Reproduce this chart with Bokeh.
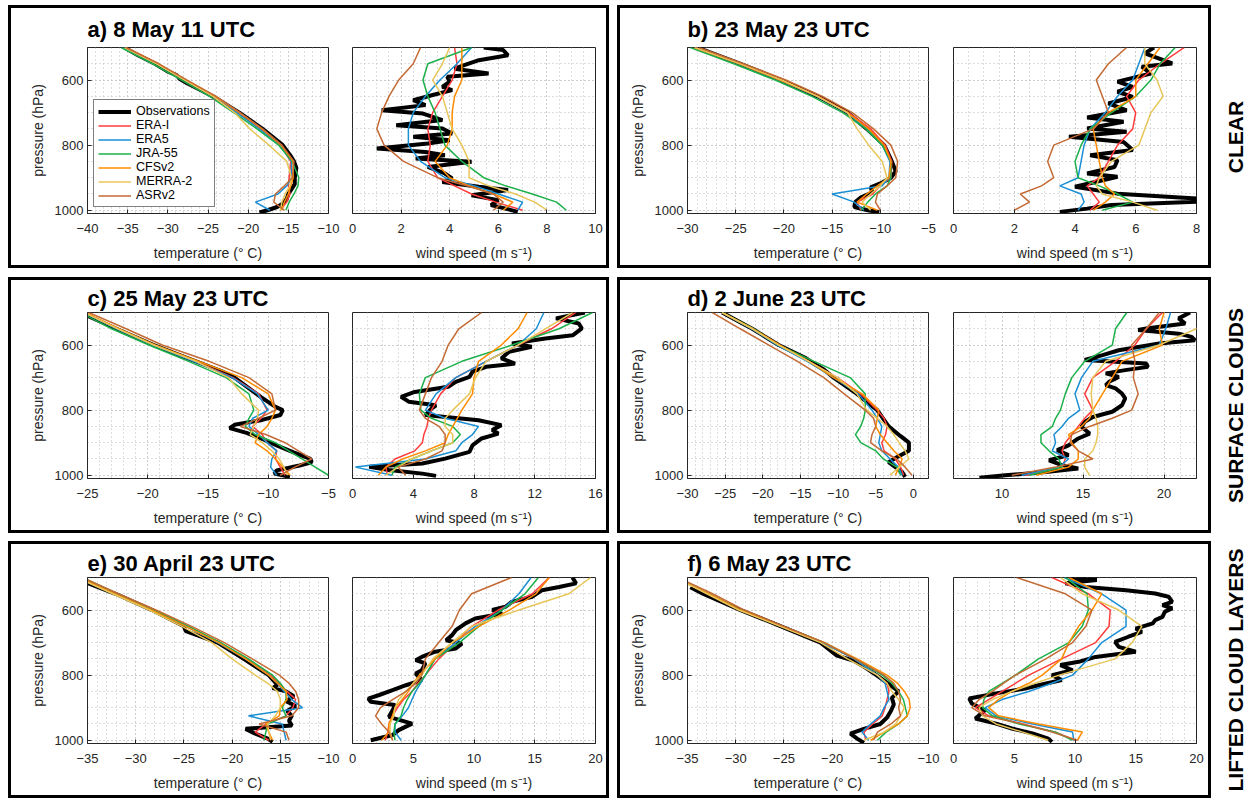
import math
from bokeh.plotting import figure
from bokeh.models import Range1d, FixedTicker, Spacer, Legend, LegendItem
from bokeh.layouts import row, column
from bokeh.embed import file_html
from bokeh.resources import INLINE
from bokeh.core.properties import value

# ---------------------------------------------------------------- data
MODELS = ["ERA-I", "ERA5", "JRA-55", "CFSv2", "MERRA-2", "ASRv2"]
MODEL_COLORS = ["#ff3b3b", "#1a8fd4", "#1bb04a", "#ff8c00", "#e8c65a", "#c46a35"]

P13 = [500, 550, 600, 650, 700, 750, 800, 850, 900, 925, 950, 975, 1000]
P15 = [500, 550, 600, 650, 700, 750, 800, 825, 850, 875, 900, 925, 950, 975, 1000]

# ---- a) 8 May 11 UTC
a_temp_obs_p = [500, 525, 550, 575, 585, 595, 610, 650, 700, 750, 800, 830, 850, 870, 900, 920, 935, 950, 965, 980, 990, 1000, 1007]
a_temp_obs = [-35.4, -33.6, -31.6, -29.9, -28.9, -28.6, -27.6, -24.4, -21.1, -18.2, -15.7, -14.8, -14.3, -14.0, -14.2, -14.2, -14.6, -15.0, -15.2, -15.7, -16.4, -17.6, -18.6]
a_temp_erai = [-35.3, -31.3, -27.8, -24.2, -21.2, -18.4, -16.0, -14.7, -14.9, -15.0, -14.8, -15.2, -16.0]
a_temp_era5 = [-35.5, -31.4, -27.9, -24.4, -21.4, -18.6, -16.1, -14.6, -14.6, -15.2, -16.3, -19.1, -17.3]
a_temp_jra55 = [-35.8, -31.9, -28.3, -24.8, -21.8, -18.9, -16.2, -14.5, -13.7, -13.8, -14.3, -14.9, -15.3]
a_temp_cfsv2 = [-35.2, -31.2, -27.7, -24.1, -21.1, -18.3, -15.9, -14.4, -14.4, -14.7, -15.0, -15.5, -15.8]
a_temp_merra2 = [-35.4, -31.4, -27.9, -24.4, -21.7, -19.8, -17.4, -15.2, -14.6, -14.8, -15.4, -15.8, -16.0]
a_temp_asrv2 = [-35.2, -31.1, -27.6, -24.0, -21.0, -18.2, -15.8, -14.3, -14.5, -15.5, -16.6, -16.8, -15.5]

a_wind_obs_p = [500, 508, 524, 539, 554, 565, 580, 590, 605, 621, 631, 646, 662, 677, 693, 703, 723, 739, 749, 764, 774, 785, 795, 810, 821, 831, 841, 851, 867, 887, 902, 913, 928, 938, 954, 969, 984, 995, 1005]
a_wind_obs = [5.4, 6.2, 6.4, 5.2, 4.6, 4.2, 5.6, 3.9, 4.0, 3.7, 4.1, 3.3, 2.5, 3.0, 1.2, 2.9, 3.7, 1.8, 3.7, 4.1, 2.5, 4.0, 3.1, 1.0, 3.0, 3.8, 2.6, 4.9, 3.1, 3.8, 4.1, 3.7, 5.2, 6.4, 4.9, 6.0, 5.7, 6.3, 6.8]
a_wind_erai = [4.2, 4.3, 4.1, 3.7, 3.3, 3.1, 3.2, 3.1, 3.5, 4.2, 4.9, 5.9, 7.0]
a_wind_era5 = [4.9, 4.3, 3.6, 3.0, 2.5, 2.3, 2.3, 2.8, 3.8, 5.0, 6.0, 7.0, 6.8]
a_wind_jra55 = [4.9, 3.1, 2.9, 3.1, 3.4, 3.6, 3.8, 4.5, 5.4, 6.3, 7.4, 8.4, 8.8]
a_wind_cfsv2 = [4.5, 4.5, 4.5, 4.2, 4.1, 4.1, 3.9, 3.4, 4.0, 4.8, 5.8, 6.6, 6.2]
a_wind_merra2 = [4.0, 3.7, 3.3, 3.7, 3.9, 4.1, 4.5, 4.8, 4.8, 5.6, 6.7, 7.5, 8.0]
a_wind_asrv2 = [2.8, 2.5, 1.9, 1.5, 1.2, 1.0, 1.3, 2.1, 3.5, 4.7, 5.8, 6.2, 5.8]

# ---- b) 23 May 23 UTC
b_temp_obs_p = [500, 550, 600, 650, 680, 700, 750, 800, 850, 880, 900, 915, 930, 945, 960, 975, 990, 1000, 1006]
b_temp_obs = [-29.0, -24.5, -20.3, -16.5, -14.6, -13.4, -11.4, -9.6, -8.8, -8.4, -8.9, -9.8, -11.0, -10.8, -12.0, -12.6, -12.7, -11.3, -10.1]
b_temp_erai = [-29.2, -24.6, -20.3, -16.4, -13.3, -11.0, -9.5, -8.8, -8.9, -10.0, -10.8, -12.4, -12.0]
b_temp_era5 = [-29.3, -24.7, -20.5, -16.6, -13.5, -11.4, -9.8, -9.0, -9.1, -9.8, -15.0, -12.7, -11.7]
b_temp_jra55 = [-29.7, -25.2, -20.9, -17.1, -13.9, -11.5, -9.8, -8.9, -8.9, -9.3, -10.5, -11.3, -12.0]
b_temp_cfsv2 = [-29.3, -24.6, -20.4, -16.5, -13.4, -11.2, -9.6, -8.9, -9.1, -10.3, -11.4, -12.4, -10.3]
b_temp_merra2 = [-29.2, -24.5, -20.2, -16.5, -13.4, -12.4, -11.2, -9.8, -9.3, -10.0, -11.0, -11.9, -11.0]
b_temp_asrv2 = [-28.8, -24.2, -19.8, -16.0, -12.9, -10.7, -8.9, -8.2, -8.4, -9.3, -10.3, -10.5, -10.0]

b_wind_obs_p = [500, 518, 549, 559, 580, 605, 621, 636, 652, 672, 693, 715, 728, 749, 759, 774, 790, 815, 831, 846, 867, 887, 897, 928, 949, 964, 974, 984, 995, 1005]
b_wind_obs = [6.6, 6.3, 7.2, 6.2, 6.5, 5.4, 5.9, 5.4, 5.9, 5.1, 5.7, 4.4, 5.6, 4.4, 5.7, 3.8, 5.6, 5.9, 4.5, 5.4, 5.3, 4.4, 5.4, 4.0, 5.4, 8.0, 8.0, 5.2, 4.4, 3.5]
b_wind_erai = [7.6, 6.8, 6.1, 5.7, 6.0, 5.9, 5.4, 5.1, 4.8, 4.4, 4.6, 4.8, 4.5]
b_wind_era5 = [6.3, 6.1, 5.9, 5.4, 5.0, 4.5, 4.3, 4.2, 4.1, 3.5, 4.2, 4.3, 4.1]
b_wind_jra55 = [7.3, 6.8, 6.5, 6.0, 5.2, 4.5, 4.2, 4.0, 4.1, 4.8, 5.4, 5.9, 4.9]
b_wind_cfsv2 = [6.8, 6.4, 6.0, 6.0, 5.1, 4.6, 4.7, 4.8, 4.9, 5.0, 5.3, 5.0, 4.6]
b_wind_merra2 = [6.3, 6.3, 6.7, 6.9, 6.5, 6.3, 6.1, 5.2, 4.8, 4.7, 4.9, 5.9, 6.7]
b_wind_asrv2 = [5.7, 5.1, 4.7, 4.9, 5.1, 4.6, 3.3, 3.1, 3.3, 2.9, 2.2, 2.5, 2.0]

# ---- c) 25 May 23 UTC
c_temp_obs_p = [510, 550, 600, 650, 680, 700, 730, 760, 790, 800, 815, 830, 845, 855, 870, 890, 910, 930, 950, 960, 970, 985, 995, 1005]
c_temp_obs = [-25.0, -22.6, -19.5, -16.0, -13.9, -12.8, -11.7, -10.6, -9.4, -8.8, -9.0, -10.5, -12.8, -13.2, -11.8, -10.4, -9.2, -7.9, -6.5, -6.4, -7.4, -9.3, -9.5, -8.2]
c_temp_erai = [-25.3, -22.5, -19.5, -16.0, -12.9, -10.8, -10.1, -10.6, -11.3, -10.5, -10.1, -9.3, -9.4, -9.0, -8.6]
c_temp_era5 = [-25.3, -22.6, -19.6, -16.2, -13.0, -10.9, -10.0, -11.3, -11.6, -10.8, -10.1, -9.3, -9.7, -9.8, -9.3]
c_temp_jra55 = [-25.6, -23.0, -19.9, -16.6, -13.5, -11.6, -11.2, -11.6, -11.9, -11.1, -9.4, -8.3, -7.2, -6.1, -5.0]
c_temp_cfsv2 = [-25.2, -22.4, -19.4, -15.8, -12.2, -10.0, -9.4, -9.7, -10.1, -10.8, -11.1, -10.1, -9.4, -8.8, -8.2]
c_temp_merra2 = [-25.3, -22.5, -19.5, -16.0, -13.3, -12.2, -10.8, -10.9, -11.2, -11.5, -10.5, -9.7, -9.1, -8.7, -8.4]
c_temp_asrv2 = [-24.9, -21.8, -18.8, -14.9, -11.6, -9.7, -9.4, -10.8, -12.3, -10.2, -8.6, -7.5, -6.4, -7.8, -9.0]

c_wind_obs_p = [500, 518, 534, 549, 570, 580, 595, 605, 621, 641, 657, 667, 682, 698, 713, 728, 744, 759, 774, 785, 795, 815, 831, 846, 861, 872, 887, 908, 928, 949, 964, 974, 984, 995, 1002]
c_wind_obs = [15.3, 13.4, 14.9, 15.1, 14.5, 12.7, 10.5, 11.8, 10.3, 9.8, 10.7, 8.8, 7.9, 7.7, 6.8, 6.3, 4.1, 3.2, 3.7, 5.5, 5.2, 4.8, 8.3, 9.8, 9.2, 9.6, 8.5, 7.9, 7.7, 6.1, 4.6, 1.1, 2.4, 4.6, 5.5]
c_wind_erai = [14.7, 13.1, 10.9, 8.8, 6.8, 5.8, 5.2, 5.0, 4.9, 4.7, 4.6, 4.1, 2.8, 2.2, 2.3]
c_wind_era5 = [12.6, 12.1, 10.9, 8.8, 6.8, 5.5, 4.8, 6.1, 8.3, 7.9, 7.2, 6.8, 4.8, 0.2, 2.6]
c_wind_jra55 = [15.8, 13.6, 10.5, 7.2, 4.8, 4.4, 4.5, 5.2, 6.6, 7.1, 6.6, 5.2, 3.9, 2.8, 2.6]
c_wind_cfsv2 = [11.5, 10.9, 9.8, 8.3, 8.0, 7.9, 7.2, 6.9, 6.6, 6.3, 6.1, 4.8, 3.3, 2.2, 1.7]
c_wind_merra2 = [14.5, 12.7, 10.9, 8.8, 8.1, 7.7, 6.6, 6.1, 6.1, 6.6, 6.6, 5.2, 3.9, 3.0, 2.2]
c_wind_asrv2 = [8.5, 7.0, 6.3, 5.9, 5.2, 4.8, 4.4, 4.8, 5.7, 6.1, 6.1, 5.9, 4.8, 3.0, 3.5]

# ---- d) 2 June 23 UTC
d_temp_obs_p = [500, 550, 600, 640, 660, 675, 700, 750, 800, 850, 880, 900, 925, 945, 960, 975, 990, 1005]
d_temp_obs = [-25.4, -21.4, -17.9, -14.3, -13.0, -11.9, -10.6, -7.5, -4.8, -3.3, -1.7, -0.6, -0.6, -2.2, -3.3, -2.4, -1.5, -1.1]
d_temp_erai = [-25.4, -21.4, -17.9, -13.9, -10.1, -7.0, -4.8, -3.9, -3.5, -3.7, -4.2, -3.9, -2.4, -1.7, -1.3]
d_temp_era5 = [-25.4, -21.5, -18.1, -14.1, -10.6, -7.3, -5.5, -4.8, -4.2, -4.4, -4.6, -4.2, -3.1, -2.0, -1.5]
d_temp_jra55 = [-25.4, -21.2, -17.9, -13.2, -8.4, -6.4, -6.4, -6.6, -7.0, -7.7, -7.0, -5.0, -4.0, -2.2, -1.7]
d_temp_cfsv2 = [-25.4, -21.3, -17.7, -13.9, -10.6, -6.8, -4.6, -4.8, -5.0, -4.4, -3.5, -2.6, -1.5, -1.9, -2.4]
d_temp_merra2 = [-25.4, -21.4, -17.9, -13.9, -10.1, -7.5, -6.2, -4.8, -3.5, -2.6, -1.9, -1.1, -0.6, -1.9, -3.1]
d_temp_asrv2 = [-26.7, -23.0, -19.2, -15.4, -11.9, -9.2, -6.4, -5.3, -5.0, -5.5, -5.7, -4.2, -2.2, -1.1, -0.2]

d_wind_obs_p = [500, 518, 534, 549, 554, 565, 575, 585, 595, 616, 631, 646, 657, 667, 677, 687, 698, 713, 723, 733, 749, 764, 785, 805, 821, 836, 851, 872, 887, 908, 923, 938, 954, 969, 979, 990, 1000, 1008]
d_wind_obs = [21.6, 20.9, 21.3, 18.9, 18.4, 20.9, 21.7, 21.9, 19.7, 17.2, 16.2, 15.1, 18.9, 19.0, 17.6, 16.4, 17.2, 16.6, 16.4, 17.0, 17.4, 17.6, 17.4, 16.8, 15.6, 15.1, 14.9, 15.4, 14.7, 14.1, 13.4, 14.1, 12.9, 13.7, 14.7, 12.7, 10.2, 8.6]
d_wind_erai = [19.9, 18.9, 18.2, 17.0, 15.6, 15.1, 15.6, 15.1, 14.7, 14.3, 13.9, 13.7, 13.9, 13.7, 11.4]
d_wind_era5 = [20.4, 20.1, 19.7, 15.6, 14.9, 14.5, 14.8, 14.1, 13.7, 13.2, 13.3, 13.1, 14.1, 13.5, 11.2]
d_wind_jra55 = [17.7, 17.0, 16.8, 15.1, 14.3, 13.9, 13.6, 13.3, 13.1, 12.4, 12.4, 12.9, 13.5, 13.7, 11.7]
d_wind_cfsv2 = [20.0, 19.7, 19.9, 17.4, 16.8, 16.2, 15.6, 15.4, 14.9, 14.1, 14.3, 14.7, 14.7, 14.1, 12.1]
d_wind_merra2 = [23.0, 22.0, 19.7, 16.4, 15.6, 15.5, 15.6, 15.8, 15.9, 15.9, 15.8, 15.6, 15.1, 15.1, 15.4]
d_wind_asrv2 = [19.7, 18.9, 18.0, 18.2, 18.1, 18.4, 18.0, 16.8, 15.4, 14.3, 14.2, 14.7, 15.6, 13.3, 10.6]

# ---- e) 30 April 23 UTC
e_temp_obs_p = [515, 550, 600, 650, 665, 700, 750, 800, 830, 840, 850, 865, 880, 895, 910, 925, 940, 955, 965, 980, 995, 1005]
e_temp_obs = [-35.2, -32.1, -28.3, -25.0, -24.8, -21.5, -18.8, -16.2, -15.3, -15.8, -14.4, -13.6, -14.4, -13.4, -14.3, -13.8, -14.1, -13.8, -18.6, -17.6, -16.3, -15.8]
e_temp_erai = [-35.9, -32.1, -28.3, -24.7, -21.4, -18.4, -16.0, -15.1, -14.3, -13.4, -13.7, -14.4, -16.5, -17.6, -16.2]
e_temp_era5 = [-36.1, -32.3, -28.5, -24.8, -21.5, -18.6, -16.2, -15.3, -14.6, -13.8, -12.7, -18.3, -14.8, -14.6, -14.4]
e_temp_jra55 = [-35.5, -31.9, -28.1, -24.5, -21.2, -18.3, -15.8, -15.0, -14.4, -14.4, -14.8, -14.4, -16.3, -16.5, -16.7]
e_temp_cfsv2 = [-35.9, -32.2, -28.4, -24.8, -21.4, -18.6, -16.2, -15.3, -14.4, -14.3, -15.0, -15.1, -16.5, -16.2, -15.8]
e_temp_merra2 = [-36.1, -32.4, -28.6, -25.2, -22.1, -20.0, -17.6, -16.3, -15.3, -15.0, -15.0, -15.5, -16.3, -16.2, -16.0]
e_temp_asrv2 = [-35.5, -31.8, -27.9, -24.2, -20.8, -17.9, -15.1, -14.1, -13.4, -13.1, -13.1, -13.8, -17.2, -14.4, -14.1]

e_wind_obs_p = [500, 518, 529, 539, 559, 575, 590, 600, 611, 626, 641, 662, 677, 693, 703, 718, 728, 744, 754, 764, 785, 795, 815, 831, 846, 861, 872, 882, 892, 908, 928, 949, 969, 984, 1000]
e_wind_obs = [18.1, 18.4, 17.0, 15.6, 14.8, 13.1, 12.6, 11.5, 12.3, 10.1, 9.3, 8.5, 8.2, 7.7, 9.0, 8.5, 6.8, 5.7, 5.2, 6.0, 5.7, 5.2, 5.7, 4.4, 3.3, 2.2, 1.3, 1.5, 3.5, 3.3, 3.0, 4.9, 3.8, 3.3, 1.5]
e_wind_erai = [16.2, 14.8, 12.0, 9.8, 8.5, 7.1, 6.0, 5.4, 4.9, 4.2, 3.7, 3.3, 3.0, 2.9, 2.7]
e_wind_era5 = [14.7, 13.7, 12.3, 10.1, 8.5, 6.8, 6.0, 5.6, 5.2, 4.9, 4.6, 4.1, 3.5, 3.5, 4.0]
e_wind_jra55 = [15.3, 14.2, 12.3, 10.4, 8.8, 6.8, 6.0, 5.5, 4.9, 4.5, 4.2, 4.0, 3.5, 3.4, 3.5]
e_wind_cfsv2 = [16.2, 15.1, 12.9, 10.4, 8.2, 6.8, 5.5, 5.0, 4.6, 4.1, 3.5, 3.3, 3.0, 3.0, 2.4]
e_wind_merra2 = [19.6, 17.8, 13.7, 9.8, 8.2, 6.6, 5.7, 5.0, 4.4, 3.8, 3.5, 3.4, 3.1, 3.1, 3.3]
e_wind_asrv2 = [13.1, 9.8, 8.8, 8.2, 7.1, 6.0, 5.7, 5.2, 4.4, 3.3, 2.3, 1.9, 2.4, 3.0, 3.3]

# ---- f) 6 May 23 UTC
f_temp_obs_p = [530, 550, 600, 650, 700, 740, 755, 770, 800, 830, 850, 870, 890, 910, 930, 950, 965, 980, 995, 1008]
f_temp_obs = [-34.7, -33.4, -29.5, -25.3, -21.2, -19.5, -17.8, -16.9, -15.4, -14.0, -13.1, -13.8, -13.6, -13.9, -14.3, -15.0, -16.7, -18.1, -17.4, -16.7]
f_temp_erai = [-36.3, -32.8, -29.5, -25.2, -21.0, -17.7, -15.3, -14.3, -14.1, -14.3, -14.5, -14.8, -15.8, -16.7, -16.5]
f_temp_era5 = [-36.3, -32.8, -29.5, -25.2, -21.0, -17.7, -15.3, -14.5, -14.3, -14.1, -14.6, -15.0, -16.0, -16.9, -16.2]
f_temp_jra55 = [-36.3, -32.8, -29.5, -25.2, -20.8, -17.6, -14.8, -13.8, -13.1, -12.6, -12.4, -12.2, -13.1, -14.4, -15.3]
f_temp_cfsv2 = [-36.3, -32.8, -29.5, -25.2, -20.8, -17.4, -14.3, -13.2, -12.5, -12.0, -11.9, -12.2, -13.1, -14.6, -16.0]
f_temp_merra2 = [-36.3, -33.0, -29.7, -25.4, -21.2, -18.4, -15.3, -14.3, -13.8, -13.1, -12.5, -12.9, -13.4, -14.6, -16.7]
f_temp_asrv2 = [-36.0, -32.4, -29.1, -25.0, -20.8, -17.6, -14.6, -13.6, -13.1, -12.9, -13.1, -12.9, -13.9, -15.3, -15.7]

f_wind_obs_p = [500, 508, 518, 529, 539, 549, 559, 575, 585, 595, 605, 621, 631, 641, 657, 667, 682, 698, 713, 728, 744, 759, 769, 785, 800, 815, 831, 841, 856, 872, 887, 908, 933, 949, 964, 979, 995, 1005]
f_wind_obs = [9.5, 11.8, 9.2, 10.9, 14.2, 16.6, 17.7, 18.0, 17.2, 18.0, 17.4, 17.2, 16.6, 16.4, 15.0, 15.5, 14.4, 13.3, 13.6, 15.0, 11.7, 10.3, 8.8, 9.8, 8.1, 8.9, 7.0, 5.9, 3.5, 1.3, 1.5, 2.6, 1.8, 3.5, 4.8, 6.5, 7.8, 8.1]
f_wind_erai = [8.1, 11.1, 12.9, 12.8, 11.7, 8.9, 6.2, 5.1, 4.0, 2.9, 1.8, 2.9, 5.7, 8.4, 10.0]
f_wind_era5 = [9.1, 12.2, 14.2, 14.2, 12.2, 11.1, 9.8, 8.1, 6.2, 4.0, 2.6, 3.5, 6.5, 9.8, 9.9]
f_wind_jra55 = [9.2, 11.0, 11.1, 10.6, 9.5, 7.0, 5.1, 4.0, 2.9, 2.5, 2.4, 3.2, 5.4, 8.4, 9.8]
f_wind_cfsv2 = [9.5, 12.2, 11.4, 10.3, 9.5, 8.9, 7.3, 6.2, 4.8, 3.7, 2.9, 3.7, 7.0, 10.6, 10.2]
f_wind_merra2 = [8.8, 10.6, 13.6, 15.5, 14.7, 13.3, 8.7, 6.7, 4.8, 3.2, 2.1, 2.4, 3.5, 5.7, 7.8]
f_wind_asrv2 = [5.2, 9.2, 11.4, 10.9, 9.8, 7.6, 5.1, 4.1, 3.2, 2.1, 1.5, 2.6, 5.7, 8.1, 10.2]

ROW_LABELS = ["CLEAR", "SURFACE CLOUDS", "LIFTED CLOUD LAYERS"]

# ---------------------------------------------------------------- style
FONT = "Liberation Sans"
TXT = "#262626"
GRID = "#bdbdbd"
FRAME_H = 166
BOT_B = 52
B = 3
# per row: (gap above box, top border inside figure, title standoff)
ROW_GEOM = [(5, 39, 11), (9, 32, 4), (8, 33, 4)]


def seq(lo, hi, step):
    n = int(round((hi - lo) / step))
    return [round(lo + i * step, 6) for i in range(n + 1)]


def style_axis(ax, vertical=False):
    ax.major_tick_in = 4
    ax.major_tick_out = 0
    ax.minor_tick_in = 0
    ax.minor_tick_out = 0
    ax.major_tick_line_color = TXT
    ax.axis_line_color = TXT
    ax.major_label_text_font = FONT
    ax.major_label_text_font_size = "13px"
    ax.major_label_text_color = TXT
    ax.major_label_standoff = 4 if vertical else 10
    ax.axis_label_text_font = FONT
    ax.axis_label_text_font_size = "14px"
    ax.axis_label_text_font_style = "normal"
    ax.axis_label_text_color = TXT
    ax.axis_label_standoff = 6 if vertical else 9


def make_fig(xr, xmajor, xminor, fw, left, right, top, xlabel, ylabel=None, title=None, tstand=5):
    p = figure(frame_width=fw, frame_height=FRAME_H,
               x_range=Range1d(*xr), y_range=Range1d(1010, 500),
               min_border_left=left, min_border_right=right,
               min_border_top=top, min_border_bottom=BOT_B,
               title=title, output_backend="svg", toolbar_location=None)
    p.xaxis.ticker = FixedTicker(ticks=xmajor, minor_ticks=xminor)
    p.yaxis.ticker = FixedTicker(ticks=[600, 800, 1000], minor_ticks=seq(500, 1000, 50))
    style_axis(p.xaxis[0])
    style_axis(p.yaxis[0], vertical=True)
    p.xaxis.axis_label = xlabel
    if ylabel:
        p.yaxis.axis_label = ylabel
    else:
        p.yaxis.visible = False
    for g in (p.xgrid[0], p.ygrid[0]):
        g.grid_line_color = GRID
        g.grid_line_dash = "1 3"
        g.minor_grid_line_color = GRID
        g.minor_grid_line_dash = "1 3"
    p.outline_line_color = TXT
    p.outline_line_width = 1
    p.background_fill_color = "white"
    p.border_fill_color = "white"
    if title:
        p.title.text_font = FONT
        p.title.text_font_size = "22px"
        p.title.text_font_style = "bold"
        p.title.text_color = "black"
        p.title.align = "left"
        p.title.standoff = tstand
    return p


def draw(p, obs_p, obs_v, lev, model_vals):
    rs = [p.line(obs_v, obs_p, line_color="black", line_width=4)]
    for vals, col in zip(model_vals, MODEL_COLORS):
        rs.append(p.line(vals, lev, line_color=col, line_width=1.5))
    return rs


def bar(w, h):
    return Spacer(width=w, height=h, margin=0, styles={"background-color": "black"})


def boxed(ft, fw_fig, W, fig_h):
    inner = row(bar(B, fig_h), ft, fw_fig, bar(B, fig_h), spacing=0)
    return column(bar(W, B), inner, bar(W, B), spacing=0)


def label_fig(text, h):
    p = figure(width=44, height=h, x_range=Range1d(0, 1), y_range=Range1d(0, 1),
               x_axis_type=None, y_axis_type=None, min_border=0, title=None,
               output_backend="svg", toolbar_location=None)
    p.grid.visible = False
    p.outline_line_color = None
    p.text(x=[0.55], y=[0.5], text=[text], angle=math.pi / 2,
           text_align="center", text_baseline="middle",
           text_font=value(FONT), text_font_style="bold", text_font_size="21px",
           text_color="black")
    return p


panels = [
    dict(title="a) 8 May 11 UTC", col=0,
         t=((-40, -10), seq(-40, -10, 5), seq(-40, -10, 1), a_temp_obs_p, a_temp_obs, P13,
            [a_temp_erai, a_temp_era5, a_temp_jra55, a_temp_cfsv2, a_temp_merra2, a_temp_asrv2]),
         w=((0, 10), seq(0, 10, 2), seq(0, 10, 0.5), a_wind_obs_p, a_wind_obs, P13,
            [a_wind_erai, a_wind_era5, a_wind_jra55, a_wind_cfsv2, a_wind_merra2, a_wind_asrv2])),
    dict(title="b) 23 May 23 UTC", col=1,
         t=((-30, -5), seq(-30, -5, 5), seq(-30, -5, 1), b_temp_obs_p, b_temp_obs, P13,
            [b_temp_erai, b_temp_era5, b_temp_jra55, b_temp_cfsv2, b_temp_merra2, b_temp_asrv2]),
         w=((0, 8), seq(0, 8, 2), seq(0, 8, 0.5), b_wind_obs_p, b_wind_obs, P13,
            [b_wind_erai, b_wind_era5, b_wind_jra55, b_wind_cfsv2, b_wind_merra2, b_wind_asrv2])),
    dict(title="c) 25 May 23 UTC", col=0,
         t=((-25, -5), seq(-25, -5, 5), seq(-25, -5, 1), c_temp_obs_p, c_temp_obs, P15,
            [c_temp_erai, c_temp_era5, c_temp_jra55, c_temp_cfsv2, c_temp_merra2, c_temp_asrv2]),
         w=((0, 16), seq(0, 16, 4), seq(0, 16, 1), c_wind_obs_p, c_wind_obs, P15,
            [c_wind_erai, c_wind_era5, c_wind_jra55, c_wind_cfsv2, c_wind_merra2, c_wind_asrv2])),
    dict(title="d) 2 June 23 UTC", col=1,
         t=((-30, 2), seq(-30, 0, 5), seq(-30, 2, 1), d_temp_obs_p, d_temp_obs, P15,
            [d_temp_erai, d_temp_era5, d_temp_jra55, d_temp_cfsv2, d_temp_merra2, d_temp_asrv2]),
         w=((7, 22), [10, 15, 20], seq(7, 22, 1), d_wind_obs_p, d_wind_obs, P15,
            [d_wind_erai, d_wind_era5, d_wind_jra55, d_wind_cfsv2, d_wind_merra2, d_wind_asrv2])),
    dict(title="e) 30 April 23 UTC", col=0,
         t=((-35, -10), seq(-35, -10, 5), seq(-35, -10, 1), e_temp_obs_p, e_temp_obs, P15,
            [e_temp_erai, e_temp_era5, e_temp_jra55, e_temp_cfsv2, e_temp_merra2, e_temp_asrv2]),
         w=((0, 20), seq(0, 20, 5), seq(0, 20, 1), e_wind_obs_p, e_wind_obs, P15,
            [e_wind_erai, e_wind_era5, e_wind_jra55, e_wind_cfsv2, e_wind_merra2, e_wind_asrv2])),
    dict(title="f) 6 May 23 UTC", col=1,
         t=((-35, -10), seq(-35, -10, 5), seq(-35, -10, 1), f_temp_obs_p, f_temp_obs, P15,
            [f_temp_erai, f_temp_era5, f_temp_jra55, f_temp_cfsv2, f_temp_merra2, f_temp_asrv2]),
         w=((0, 20), seq(0, 20, 5), seq(0, 20, 1), f_wind_obs_p, f_wind_obs, P15,
            [f_wind_erai, f_wind_era5, f_wind_jra55, f_wind_cfsv2, f_wind_merra2, f_wind_asrv2])),
]

# geometry per column: (box width, temp left, temp right, wind left, wind right)
GEOM = {0: (601, 76, 12, 12, 11), 1: (594, 67, 12, 13, 12)}

boxes = []
for i, pan in enumerate(panels):
    r = i // 2
    _, top, tstand = ROW_GEOM[r]
    fig_h = top + FRAME_H + BOT_B
    W, tl, tr, wl, wr = GEOM[pan["col"]]
    xr, xmaj, xmin, op, ov, lev, mv = pan["t"]
    ft = make_fig(xr, xmaj, xmin, 241, tl, tr, top, "temperature (\u00b0 C)",
                  ylabel="pressure (hPa)", title=pan["title"], tstand=tstand)
    rs = draw(ft, op, ov, lev, mv)
    if i == 0:
        items = [LegendItem(label="Observations", renderers=[rs[0]])]
        items += [LegendItem(label=m, renderers=[rr]) for m, rr in zip(MODELS, rs[1:])]
        leg = Legend(items=items, location="bottom_left", margin=6, padding=4, spacing=0,
                     label_text_font=FONT, label_text_font_size="12.5px", label_text_color="black",
                     label_height=13, glyph_height=13, glyph_width=33, label_standoff=5,
                     border_line_color="black", border_line_width=1,
                     background_fill_color="white", background_fill_alpha=1.0)
        ft.add_layout(leg)
    xr, xmaj, xmin, op, ov, lev, mv = pan["w"]
    fw = make_fig(xr, xmaj, xmin, 243, wl, wr, top, "wind speed (m s\u207b\u00b9)")
    draw(fw, op, ov, lev, mv)
    boxes.append(boxed(ft, fw, W, fig_h))

parts = []
for r in range(3):
    gap, top, _ = ROW_GEOM[r]
    row_h = top + FRAME_H + BOT_B + 2 * B
    parts.append(Spacer(width=1255, height=gap, margin=0))
    parts.append(row(Spacer(width=8, height=row_h, margin=0), boxes[2 * r],
                     Spacer(width=8, height=row_h, margin=0), boxes[2 * r + 1],
                     label_fig(ROW_LABELS[r], row_h), spacing=0))

layout = column(*parts, spacing=0)

open("out.html", "w").write(file_html(layout, INLINE))
